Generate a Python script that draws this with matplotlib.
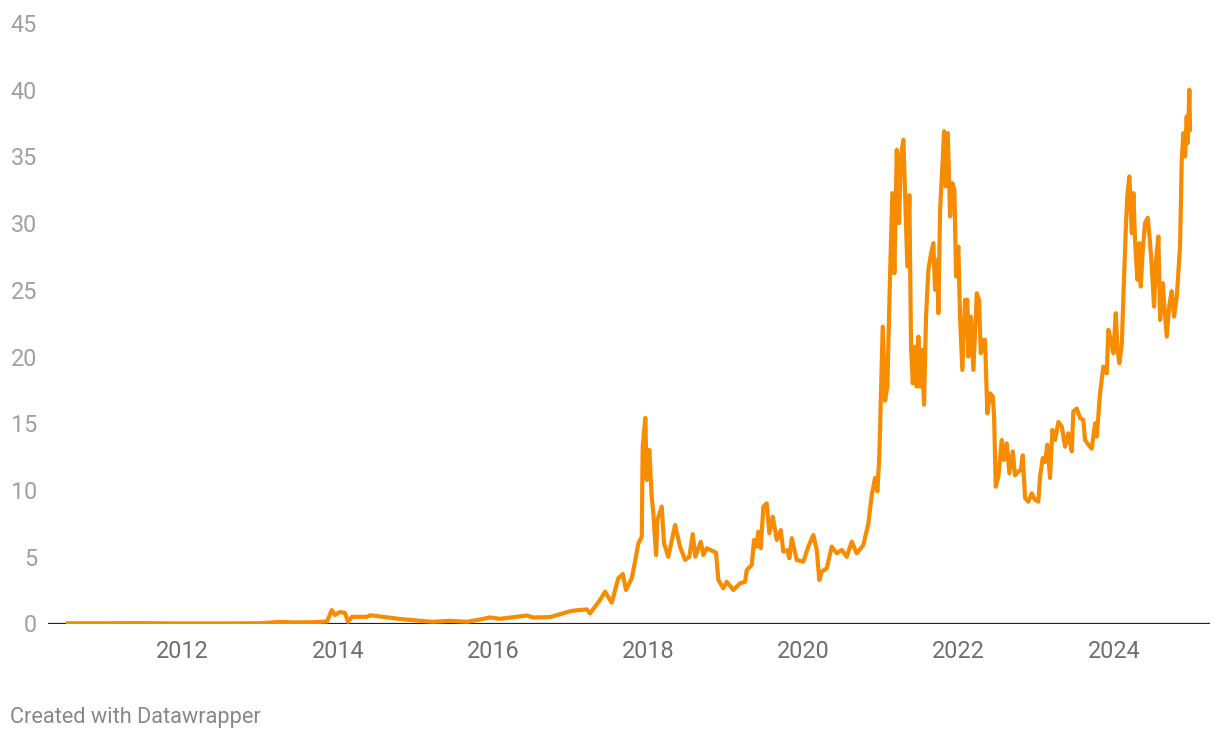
import matplotlib
matplotlib.use('Agg')
from matplotlib import pyplot as plt

plt.rcParams['font.family'] = ['Roboto', 'DejaVu Sans']

# decimal years and values
years = [2010.524, 2011.0, 2011.45, 2011.9, 2012.5, 2013.0, 2013.25, 2013.45, 2013.7,
         2013.862, 2013.923, 2013.965, 2014.030, 2014.094, 2014.133, 2014.184, 2014.378,
         2014.416, 2014.584, 2014.803, 2015.022, 2015.228, 2015.447, 2015.666, 2015.834,
         2015.963, 2016.092, 2016.440, 2016.517,
         2016.736, 2017.015, 2017.209, 2017.251, 2017.380, 2017.445, 2017.531, 2017.616,
         2017.673, 2017.715, 2017.789, 2017.831, 2017.874, 2017.918, 2017.930, 2017.964,
         2017.982, 2018.015, 2018.046, 2018.067, 2018.102, 2018.119, 2018.175, 2018.205,
         2018.260, 2018.347, 2018.411, 2018.476, 2018.531, 2018.575, 2018.608, 2018.678,
         2018.711, 2018.755, 2018.875, 2018.905, 2018.969, 2019.013, 2019.098, 2019.184,
         2019.249, 2019.271, 2019.335, 2019.365, 2019.399, 2019.420, 2019.451, 2019.485,
         2019.528, 2019.562, 2019.606, 2019.657, 2019.709, 2019.742, 2019.794, 2019.820,
         2019.851, 2019.915, 2020.000, 2020.064, 2020.129, 2020.173, 2020.206, 2020.237,
         2020.302, 2020.366, 2020.430, 2020.495, 2020.559, 2020.624, 2020.688, 2020.773,
         2020.838, 2020.881, 2020.924, 2020.954, 2020.979, 2021.023, 2021.053, 2021.082,
         2021.117, 2021.147, 2021.173, 2021.204, 2021.233, 2021.255, 2021.289, 2021.311,
         2021.340, 2021.366, 2021.388, 2021.410, 2021.439, 2021.461, 2021.482, 2021.504,
         2021.526, 2021.555, 2021.581, 2021.611, 2021.642, 2021.675, 2021.697, 2021.727,
         2021.740, 2021.762, 2021.796, 2021.813, 2021.835, 2021.861, 2021.891, 2021.920,
         2021.946, 2021.968, 2021.997, 2022.019, 2022.049, 2022.084, 2022.113, 2022.126,
         2022.157, 2022.191, 2022.235, 2022.264, 2022.286, 2022.320, 2022.341, 2022.371,
         2022.406, 2022.441, 2022.458, 2022.479, 2022.513, 2022.557, 2022.586, 2022.621,
         2022.655, 2022.698, 2022.728, 2022.771, 2022.802, 2022.827, 2022.857, 2022.899,
         2022.943, 2022.986, 2023.028, 2023.050, 2023.085, 2023.115, 2023.144, 2023.179,
         2023.209, 2023.244, 2023.286, 2023.330, 2023.373, 2023.415, 2023.459, 2023.479,
         2023.523, 2023.566, 2023.608, 2023.630, 2023.673, 2023.716, 2023.759, 2023.781,
         2023.823, 2023.866, 2023.910, 2023.930, 2023.961, 2023.995, 2024.026, 2024.046,
         2024.072, 2024.103, 2024.133, 2024.158, 2024.175, 2024.201, 2024.232, 2024.253,
         2024.274, 2024.304, 2024.330, 2024.348, 2024.374, 2024.403, 2024.438, 2024.468,
         2024.490, 2024.519, 2024.545, 2024.575, 2024.597, 2024.631, 2024.652, 2024.683,
         2024.713, 2024.747, 2024.777, 2024.812, 2024.832, 2024.854, 2024.876, 2024.897,
         2024.919, 2024.940, 2024.953, 2024.974, 2024.983]

values = [0.02, 0.02, 0.03, 0.01, 0.01, 0.02, 0.12, 0.08, 0.10,
          0.15, 1.00, 0.64, 0.86, 0.79, 0.13, 0.50, 0.50,
          0.62, 0.50, 0.34, 0.22, 0.13, 0.20, 0.13, 0.30,
          0.45, 0.35, 0.60, 0.45,
          0.48, 0.95, 1.06, 0.76, 1.76, 2.38, 1.56, 3.39,
          3.71, 2.51, 3.39, 4.63, 6.00, 6.50, 13.25, 15.40,
          10.75, 13.00, 9.50, 8.26, 5.13, 7.76, 8.76, 6.00,
          5.00, 7.38, 5.76, 4.76, 5.00, 6.70, 5.00, 6.13,
          5.13, 5.64, 5.31, 3.26, 2.64, 3.13, 2.51, 3.01,
          3.13, 4.01, 4.39, 6.26, 5.76, 6.88, 5.64, 8.76,
          9.00, 6.76, 8.00, 6.26, 7.00, 5.38, 5.50, 4.89,
          6.39, 4.76, 4.63, 5.76, 6.63, 5.51, 3.26, 3.88,
          4.14, 5.76, 5.26, 5.51, 5.00, 6.13, 5.26, 5.88,
          7.50, 9.60, 10.90, 9.90, 12.50, 22.25, 16.70, 17.75,
          26.00, 32.25, 26.25, 35.50, 30.00, 34.90, 36.25, 32.25,
          26.75, 32.10, 20.75, 18.00, 20.75, 17.75, 21.50, 17.75,
          20.50, 16.40, 23.00, 26.50, 27.60, 28.50, 25.00, 27.25,
          23.25, 31.00, 34.75, 36.90, 32.75, 36.75, 30.50, 33.00,
          32.50, 26.00, 28.25, 23.00, 19.00, 24.25, 24.25, 20.00,
          23.00, 19.00, 24.75, 24.25, 20.25, 21.25, 21.25, 15.75,
          17.25, 17.00, 15.50, 10.25, 11.00, 13.75, 12.25, 13.50,
          11.25, 12.90, 11.10, 11.40, 11.50, 12.60, 9.40, 9.13,
          9.76, 9.26, 9.13, 11.00, 12.40, 12.10, 13.40, 10.90,
          14.50, 13.75, 15.10, 14.75, 13.25, 14.25, 12.90, 15.90,
          16.10, 15.40, 15.25, 13.75, 13.40, 13.10, 15.00, 14.00,
          17.25, 19.25, 18.75, 22.00, 21.25, 20.25, 23.25, 20.75,
          19.50, 20.90, 26.00, 30.00, 32.10, 33.50, 29.25, 32.25,
          28.75, 25.75, 28.50, 25.25, 28.00, 30.00, 30.40, 28.50,
          26.75, 23.75, 27.25, 29.00, 22.75, 25.50, 23.75, 21.50,
          23.75, 24.90, 23.00, 24.50, 26.25, 28.25, 34.75, 36.75,
          35.00, 38.00, 36.00, 40.00, 37.00]

xticks = [2012, 2014, 2016, 2018, 2020, 2022, 2024]
yticks = [0, 5, 10, 15, 20, 25, 30, 35, 40, 45]

fig = plt.figure(figsize=(12.2, 7.4), dpi=100)
ax = fig.add_axes([48 / 1220, (740 - 623.5) / 740, (1210 - 48) / 1220, (623.5 - 23) / 740])

ax.axhline(0, color='#222222', linewidth=1.6, zorder=1)
ax.plot(years, values, color='#f78c00', linewidth=3.0, solid_joinstyle='round', zorder=2)

ax.set_xlim(2010.267, 2025.24)
ax.set_ylim(0, 45)
ax.set_xticks(xticks)
ax.set_xticklabels([str(y) for y in xticks])
ax.set_yticks(yticks)
ax.set_yticklabels([str(y) for y in yticks])
ax.tick_params(axis='x', length=0, pad=12, labelsize=16.8, labelcolor='#6e6e6e')
ax.tick_params(axis='y', length=0, pad=8, labelsize=16.8, labelcolor='#a0a0a0')
for s in ax.spines.values():
    s.set_visible(False)

fig.text(10 / 1220, 1 - 717 / 740, 'Created with Datawrapper', fontsize=15.7, color='#888888',
         ha='left', va='center')

fig.savefig('out.png', dpi=100)
